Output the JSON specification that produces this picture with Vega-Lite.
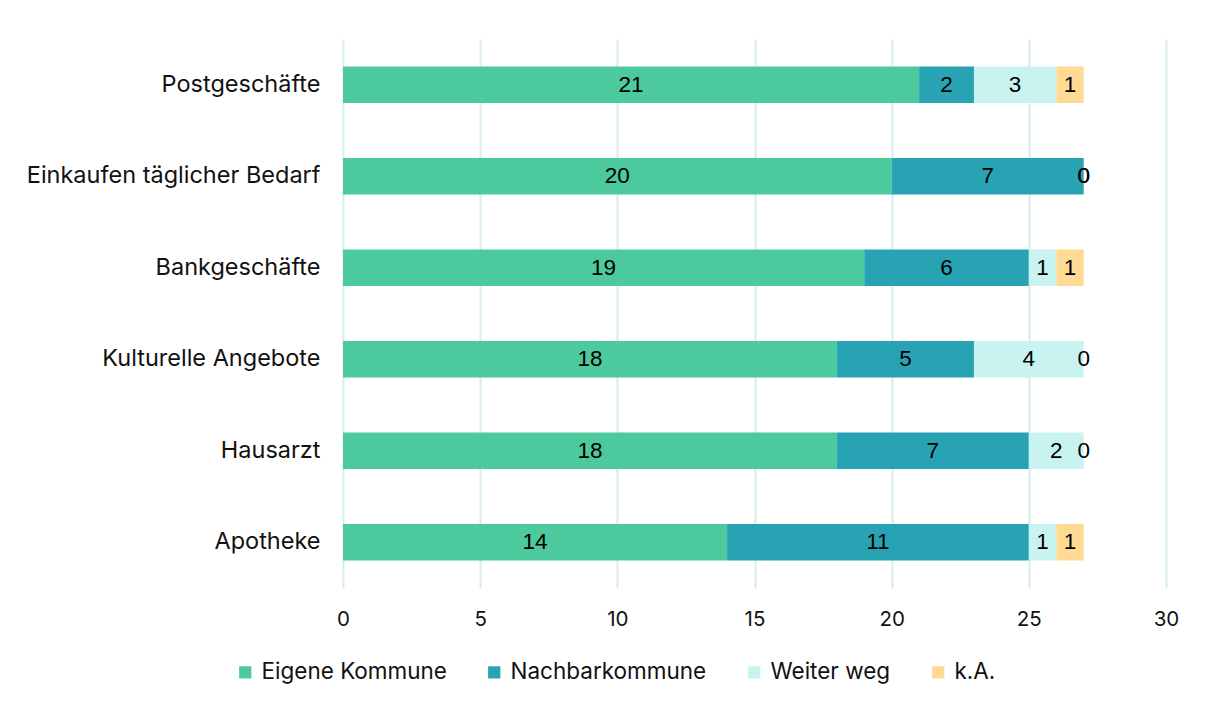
{
  "$schema": "https://vega.github.io/schema/vega-lite/v6.json",
  "autosize": {"type": "none"},
  "padding": {"left": 343, "top": 39, "right": 42, "bottom": 116},
  "width": 823,
  "height": 549,
  "background": "white",
  "config": {"view": {"stroke": null}},
  "data": {"values": [
    {"cat": "Postgeschäfte", "series": "Eigene Kommune", "o": 1, "value": 21},
    {"cat": "Postgeschäfte", "series": "Nachbarkommune", "o": 2, "value": 2},
    {"cat": "Postgeschäfte", "series": "Weiter weg", "o": 3, "value": 3},
    {"cat": "Postgeschäfte", "series": "k.A.", "o": 4, "value": 1},
    {"cat": "Einkaufen täglicher Bedarf", "series": "Eigene Kommune", "o": 1, "value": 20},
    {"cat": "Einkaufen täglicher Bedarf", "series": "Nachbarkommune", "o": 2, "value": 7},
    {"cat": "Einkaufen täglicher Bedarf", "series": "Weiter weg", "o": 3, "value": 0},
    {"cat": "Einkaufen täglicher Bedarf", "series": "k.A.", "o": 4, "value": 0},
    {"cat": "Bankgeschäfte", "series": "Eigene Kommune", "o": 1, "value": 19},
    {"cat": "Bankgeschäfte", "series": "Nachbarkommune", "o": 2, "value": 6},
    {"cat": "Bankgeschäfte", "series": "Weiter weg", "o": 3, "value": 1},
    {"cat": "Bankgeschäfte", "series": "k.A.", "o": 4, "value": 1},
    {"cat": "Kulturelle Angebote", "series": "Eigene Kommune", "o": 1, "value": 18},
    {"cat": "Kulturelle Angebote", "series": "Nachbarkommune", "o": 2, "value": 5},
    {"cat": "Kulturelle Angebote", "series": "Weiter weg", "o": 3, "value": 4},
    {"cat": "Kulturelle Angebote", "series": "k.A.", "o": 4, "value": 0},
    {"cat": "Hausarzt", "series": "Eigene Kommune", "o": 1, "value": 18},
    {"cat": "Hausarzt", "series": "Nachbarkommune", "o": 2, "value": 7},
    {"cat": "Hausarzt", "series": "Weiter weg", "o": 3, "value": 2},
    {"cat": "Hausarzt", "series": "k.A.", "o": 4, "value": 0},
    {"cat": "Apotheke", "series": "Eigene Kommune", "o": 1, "value": 14},
    {"cat": "Apotheke", "series": "Nachbarkommune", "o": 2, "value": 11},
    {"cat": "Apotheke", "series": "Weiter weg", "o": 3, "value": 1},
    {"cat": "Apotheke", "series": "k.A.", "o": 4, "value": 1}
  ]},
  "encoding": {
    "y": {
      "field": "cat", "type": "nominal", "sort": null, "title": null,
      "scale": {"paddingInner": 0.6, "paddingOuter": 0.3},
      "axis": {"domain": false, "ticks": false, "grid": false, "labelFont": "Inter", "labelFontSize": 23.5, "labelColor": "#111111", "labelPadding": 23, "labelLimit": 0}
    }
  },
  "layer": [
    {
      "mark": {"type": "bar"},
      "encoding": {
        "x": {
          "field": "value", "type": "quantitative", "stack": "zero", "title": null,
          "scale": {"domain": [0, 30], "nice": false},
          "axis": {"values": [0, 5, 10, 15, 20, 25, 30], "domain": false, "ticks": false, "grid": true, "gridColor": "#D6EEE9", "gridWidth": 2, "labelFont": "Inter", "labelFontSize": 20.5, "labelColor": "#111111", "labelPadding": 21, "labelFlush": false}
        },
        "color": {
          "field": "series", "type": "nominal", "title": null,
          "scale": {"domain": ["Eigene Kommune", "Nachbarkommune", "Weiter weg", "k.A."], "range": ["#4CC99D", "#27A3B3", "#C8F3F0", "#FEDA94"]},
          "legend": {"orient": "none", "direction": "horizontal", "legendX": -109, "legendY": 622, "symbolType": "square", "symbolSize": 150, "symbolStrokeWidth": 0, "labelFont": "Inter", "labelFontSize": 22.5, "labelColor": "#111111", "labelOffset": 5, "columnPadding": 36, "labelLimit": 0}
        },
        "order": {"field": "o", "type": "quantitative"}
      }
    },
    {
      "mark": {"type": "text", "font": "Liberation Sans", "fontSize": 22.5, "color": "#000000", "baseline": "middle", "align": "center"},
      "encoding": {
        "x": {"field": "value", "type": "quantitative", "stack": "zero", "bandPosition": 0.5},
        "detail": {"field": "series", "type": "nominal"},
        "order": {"field": "o", "type": "quantitative"},
        "text": {"field": "value", "type": "quantitative"}
      }
    }
  ]
}
